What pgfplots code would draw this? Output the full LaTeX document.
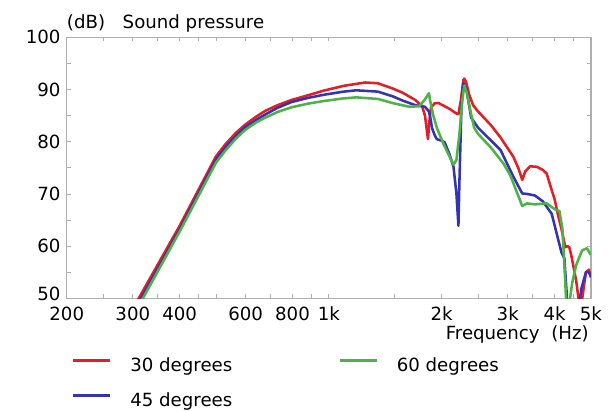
\documentclass[border=0pt]{standalone}
\usepackage{pgfplots}
\pgfplotsset{compat=1.18}
\usepackage{fontspec}
\setmainfont{DejaVu Sans}
\definecolor{cred}{RGB}{228,30,38}
\definecolor{cblue}{RGB}{52,52,178}
\definecolor{cgreen}{RGB}{78,178,72}
\definecolor{cax}{RGB}{175,175,175}
\begin{document}
\fontsize{18.5bp}{22bp}\selectfont
\begin{tikzpicture}
\begin{axis}[
  at={(0,0)}, anchor=south west,
  width=534bp, height=266bp, scale only axis,
  xmode=log, xmin=200, xmax=5000, ymin=50, ymax=100,
  log basis x=10,
  xtick={200,250,300,350,400,450,500,600,700,800,900,1000,1500,2000,2500,3000,3500,4000,4500,5000},
  xticklabels={200,,300,,400,,,600,,800,,1k,,2k,,3k,,4k,,5k},
  ytick={55,60,65,70,75,80,85,90,95,100},
  yticklabels={,60,,70,,80,,90,,100},
  extra y ticks={50},
  extra y tick labels={50},
  extra y tick style={yticklabel style={yshift=5bp}},
  minor tick num=0,
  tick align=inside,
  major tick length=4bp,
  tick style={cax, line width=0.8bp},
  axis line style={cax, line width=1.2bp},
  ticklabel style={font=\fontsize{18.5bp}{22bp}\selectfont},
  xticklabel style={yshift=-2bp},
  clip=true,
  legend columns=2, transpose legend,
  legend style={draw=none, fill=none, at={(0,0)}, anchor=north west,
    xshift=2bp, yshift=-58bp,
    font=\fontsize{18.5bp}{22bp}\selectfont,
    nodes={inner sep=0pt},
    row sep=19bp,
    /tikz/every odd column/.append style={column sep=19bp},
    /tikz/every even column/.append style={column sep=108bp}},
  legend cell align=left,
  legend image code/.code={\draw[#1] (0bp,0.3em) -- (38bp,0.3em);},
  every axis plot/.append style={line width=2.6bp, line join=round},
]
\addplot[cred] coordinates {
(300,48.0) (400,63.9) (500,77.2) (531,79.6) (565,81.7) (599,83.3) (640,84.8) (676,85.9)
(730,87.0) (795,88.0) (880,88.9) (970,89.8)
(1095,90.7) (1250,91.35) (1351,91.2) (1480,90.2) (1572,89.4) (1700,88.0)
(1773,86.8) (1805,85.0) (1827,82) (1838,80.5) (1855,84) (1872,86.5)
(1917,87.4) (1964,87.4) (2098,86.3) (2189,85.4) (2216,85.3) (2250,88)
(2284,91.8) (2298,92.1) (2326,91.3) (2368,89) (2425,87.0) (2500,85.8)
(2704,83.2) (2871,80.8) (3106,77.1) (3200,75) (3279,72.7) (3340,74.3)
(3441,75.3) (3589,75.2) (3720,74.6) (3811,73.9) (3900,71.5) (4000,69.0)
(4100,65.5) (4172,63.3) (4274,59.8) (4326,60.0) (4378,59.8) (4431,58.3)
(4567,53.4) (4652,49) (4720,49) (4794,52.6) (4852,55.0) (4940,55.5) (5000,54.0)
};
\addlegendentry{30 degrees}
\addplot[cblue] coordinates {
(300,47.2) (400,63.2) (500,76.6) (531,79.0) (565,81.1) (599,82.8) (640,84.2) (676,85.2)
(730,86.5) (795,87.6) (880,88.4) (970,89.0)
(1095,89.6) (1184,89.85) (1351,89.6) (1480,88.7) (1572,87.9) (1700,87.0)
(1805,86.7) (1849,85.8) (1872,84) (1883,82.7) (1917,81.2) (1941,80.5)
(2000,80.2) (2036,79.9) (2098,77.6) (2150,75.2) (2189,70.1) (2216,63.9)
(2229,72) (2257,86.5) (2284,91.2) (2326,90.2) (2397,84.6) (2500,82.7)
(2871,78.4) (3106,73.3) (3279,70.1) (3380,70.0) (3546,69.7) (3720,68.6)
(3930,66.2) (4049,62.5) (4172,58.8) (4248,57.7) (4326,49) (4652,49)
(4720,52) (4852,55.1) (4940,55) (5000,54.2)
};
\addlegendentry{45 degrees}
\addplot[cgreen] coordinates {
(300,46.5) (400,62.8) (500,76.0) (531,78.4) (565,80.6) (599,82.3) (640,83.7) (676,84.6)
(730,85.7) (795,86.6) (880,87.3) (970,87.8)
(1095,88.3) (1184,88.5) (1351,88.2) (1480,87.4) (1640,86.7) (1741,86.8)
(1800,88.0) (1849,89.3) (1861,88.0) (1900,85) (1941,82.7) (2024,79.5)
(2098,77.2) (2150,75.6) (2189,76.5) (2229,81.4) (2270,88) (2298,90.8)
(2330,89.5) (2368,87.0) (2440,82.7) (2500,81.5) (2704,78.9) (2924,75.8)
(3050,73.5) (3182,70.1) (3279,67.7) (3380,68.2) (3546,68.0) (3811,68.2)
(4000,67.1) (4122,66.7) (4198,63.3) (4250,56) (4300,49) (4378,49)
(4458,53) (4567,56.4) (4736,59.2) (4880,59.6) (5000,58.3)
};
\addlegendentry{60 degrees}
\end{axis}
\node[anchor=base west, inner sep=0pt] at (0bp,275bp) {(dB)\hspace{18bp}Sound pressure};
\node[anchor=base east, inner sep=0pt] at (532bp,-42bp) {Frequency\hspace{12bp}(Hz)};
\useasboundingbox (-68bp,-103bp) rectangle (540bp,304bp);
\end{tikzpicture}
\end{document}
